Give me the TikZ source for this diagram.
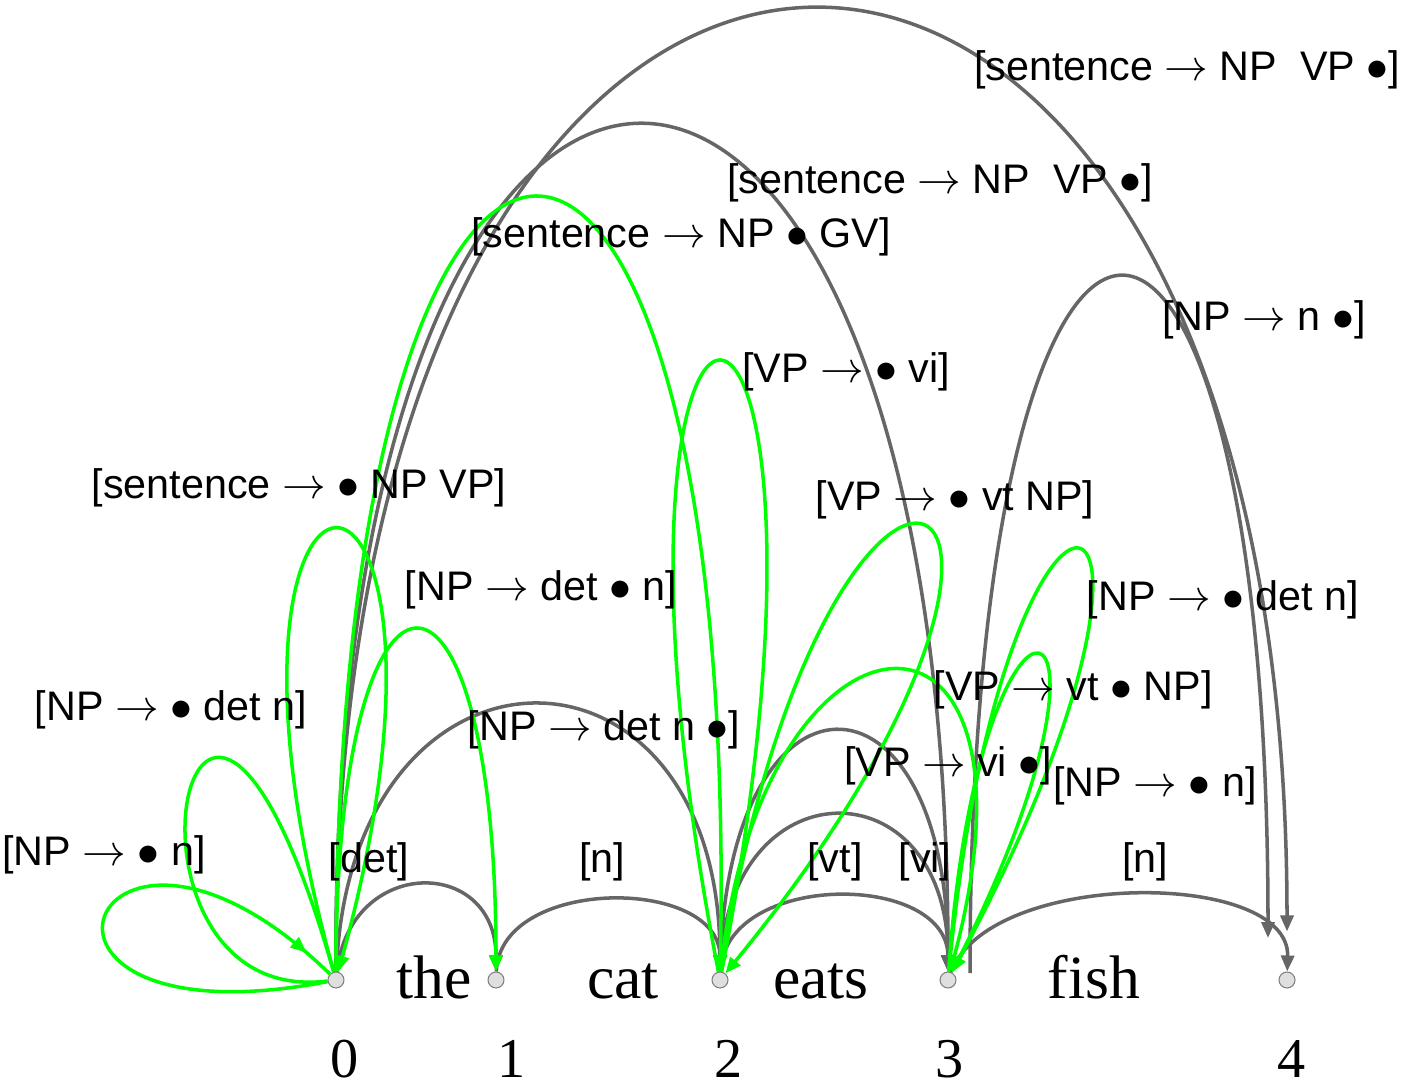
\documentclass[tikz,border=0pt]{standalone}
\usepackage{fontspec}
\setmainfont{Liberation Serif}
\setsansfont{Liberation Sans}
\usetikzlibrary{arrows.meta,decorations.markings}

\definecolor{arcgray}{HTML}{666666}
\definecolor{arcgreen}{HTML}{00FF00}

\tikzset{
	chartpt/.style={circle, draw=gray, fill=gray!25, line width=0.6pt, inner sep=0pt, minimum size=0.32cm},
	complete/.style={arcgray, line width=2pt, -{Triangle[length=0.32cm, width=0.26cm]}},
	active/.style={arcgreen, line width=2pt, -{Triangle[length=0.32cm, width=0.26cm]}},
	item/.style={font=\sffamily\fontsize{23.5}{23.5}\selectfont, inner sep=0pt},
	word/.style={font=\fontsize{35}{35}\selectfont, inner sep=0pt, anchor=base},
	posnum/.style={font=\fontsize{32}{32}\selectfont, inner sep=0pt, anchor=base},
}

\begin{document}
\begin{tikzpicture}[x=0.02cm, y=-0.02cm]
			\useasboundingbox (0,0) rectangle (1402,1088);

			% positions between the words
			\node[chartpt] (n0) at (336,980) {};
			\node[chartpt] (n1) at (496,980) {};
			\node[chartpt] (n2) at (720,980) {};
			\node[chartpt] (n3) at (948,980) {};
			\node[chartpt] (n4) at (1287,980) {};

			\node[word] (the) at (434,998) {the};
			\node[word] (cat) at (623,998) {cat};
			\node[word] (eats) at (821,998) {eats};
			\node[word] (fish) at (1094,998) {fish};

			\node[posnum] (p0) at (345,1077) {0};
			\node[posnum] (p1) at (512,1077) {1};
			\node[posnum] (p2) at (729,1077) {2};
			\node[posnum] (p3) at (950,1077) {3};
			\node[posnum] (p4) at (1292,1077) {4};

			% scanned words
			\draw[complete] (n0) .. controls (350,856) and (496,856) .. (n1);
			\draw[complete] (n1) .. controls (500,876) and (720,876) .. (n2);
			\draw[complete] (n2) .. controls (725,871) and (948,871) .. (n3);
			\draw[complete] (n2) .. controls (725,763) and (948,763) .. (n3);
			\draw[complete] (n3) .. controls (990,869) and (1290,869) .. (n4);

			% completed items
			\draw[complete] (n0) .. controls (350,616) and (720,616) .. (n2);
			\draw[complete] (n2) .. controls (725,651) and (948,651) .. (n3);
			\draw[complete] (n0) .. controls (330,-157) and (948,-157) .. (n3);
			\draw[complete, shorten >=0.8cm] (n0) .. controls (330,-305) and (1287,-305) .. (n4);
			\draw[complete] ([shift={(22,-7)}]n3.center) .. controls (970,51) and (1268,51) .. ([shift={(-19,-42)}]n4.center);

			% predicted and active items
			\draw[active, -, postaction={decorate}, decoration={markings, mark=at position 0.94 with {\arrow{Triangle[length=0.32cm, width=0.26cm]}}}]
				(n0) .. controls (-30,1050) and (90,740) .. (n0);
			\draw[active, -] (n0) .. controls (90,1010) and (190,470) .. (n0);
			\draw[active] (n0) .. controls (170,382) and (500,382) .. (n0);
			\draw[active] (n0) .. controls (336,516) and (496,516) .. (n1);
			\draw[active] (n0) .. controls (336,-60) and (740,-60) .. (n2);
			\draw[active, -] (n2) .. controls (560,156) and (880,156) .. (n2);
			\draw[active] (n2) .. controls (830,300) and (1150,455) .. (n2);
			\draw[active] (n2) .. controls (760,580) and (1060,560) .. (n3);
			\draw[active] (n3) .. controls (1006,374) and (1236,444) .. (n3);
			\draw[active] (n3) .. controls (980,524) and (1154,574) .. (n3);

			% item labels
			\node[item] (s04) at (1187,70) {[sentence $\rightarrow$ NP\ \ VP $\bullet$]};
			\node[item] (s03) at (940,183) {[sentence $\rightarrow$ NP\ \ VP $\bullet$]};
			\node[item] (s02) at (681,237) {[sentence $\rightarrow$ NP $\bullet$ GV]};
			\node[item] (np34) at (1264,320) {[NP $\rightarrow$ n $\bullet$]};
			\node[item] (vp22) at (846,372) {[VP $\rightarrow$ $\bullet$ vi]};
			\node[item] (s00) at (299,488) {[sentence $\rightarrow$ $\bullet$ NP VP]};
			\node[item] (vt22) at (955,500) {[VP $\rightarrow$ $\bullet$ vt NP]};
			\node[item] (np01) at (541,590) {[NP $\rightarrow$ det $\bullet$ n]};
			\node[item] (np33a) at (1223,600) {[NP $\rightarrow$ $\bullet$ det n]};
			\node[item] (np00a) at (171,710) {[NP $\rightarrow$ $\bullet$ det n]};
			\node[item] (vt23) at (1073,690) {[VP $\rightarrow$ vt $\bullet$ NP]};
			\node[item] (np02) at (604,730) {[NP $\rightarrow$ det n $\bullet$]};
			\node[item] (vp23) at (948,766) {[VP $\rightarrow$ vi $\bullet$]};
			\node[item] (np33b) at (1155,786) {[NP $\rightarrow$ $\bullet$ n]};
			\node[item] (np00b) at (104,855) {[NP $\rightarrow$ $\bullet$ n]};
			\node[item] (det) at (369,862) {[det]};
			\node[item] (n12) at (602,862) {[n]};
			\node[item] (vt) at (835,862) {[vt]};
			\node[item] (vi) at (925,862) {[vi]};
			\node[item] (n34) at (1145,862) {[n]};
		\end{tikzpicture}
\end{document}
